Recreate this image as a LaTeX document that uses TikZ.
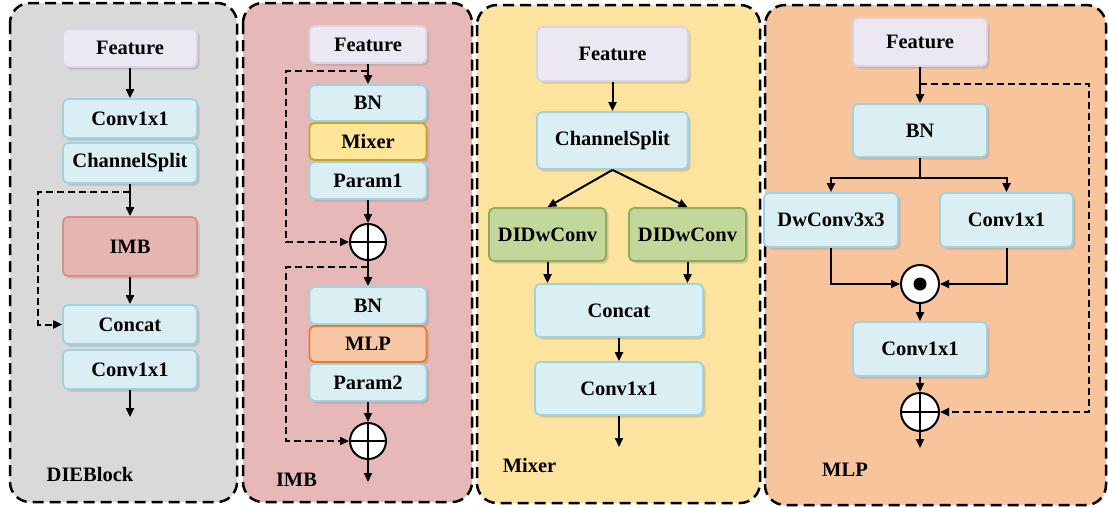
\documentclass[tikz,border=0pt]{standalone}
\usepackage{fontspec}
\setmainfont{Liberation Serif}
\usetikzlibrary{arrows.meta,shadows}

\definecolor{boxfill}{HTML}{DAEEF3}
\definecolor{boxedge}{HTML}{9DD3E0}
\definecolor{featfill}{HTML}{ECE8F1}
\definecolor{featedge}{HTML}{DCD4E6}
\definecolor{imbfill}{HTML}{E6B5B3}
\definecolor{imbedge}{HTML}{D88E8A}
\definecolor{mixfill}{HTML}{FFE597}
\definecolor{mixedge}{HTML}{C9A227}
\definecolor{mlpfill}{HTML}{F8C6A5}
\definecolor{mlpedge}{HTML}{E87A2E}
\definecolor{dwfill}{HTML}{C4D79B}
\definecolor{dwedge}{HTML}{8EAA5A}
\definecolor{pgray}{HTML}{D9D9D9}
\definecolor{ppink}{HTML}{E6B9B8}
\definecolor{pyellow}{HTML}{FDE49E}
\definecolor{ppeach}{HTML}{F8C49C}

\tikzset{
  blk/.style={draw=boxedge, fill=boxfill, line width=1.8pt, rounded corners=5pt,
    inner sep=0pt, drop shadow={shadow xshift=2.5pt, shadow yshift=-2.5pt, opacity=0.3}},
  feat/.style={blk, draw=featedge, fill=featfill},
  flow/.style={-{Triangle[length=9pt,width=8pt]}, line width=2pt},
  skip/.style={flow, dash pattern=on 7pt off 4pt},
  panel/.style={draw=black, line width=2.5pt, dash pattern=on 11pt off 6pt, rounded corners=20pt},
  sumnode/.style={circle, draw, fill=white, line width=2pt, minimum size=36pt, inner sep=0pt,
    path picture={\draw[line width=1.8pt] (path picture bounding box.north) -- (path picture bounding box.south)
      (path picture bounding box.west) -- (path picture bounding box.east);}},
  mulnode/.style={circle, draw, fill=white, line width=2pt, minimum size=38pt, inner sep=0pt,
    path picture={\fill[black] (path picture bounding box.center) circle (6.5pt);}}
}

\begin{document}
\begin{tikzpicture}[x=1pt, y=-1pt, every node/.style={font=\fontsize{20.5}{24}\selectfont\bfseries}]
  \fill[white] (0,0) rectangle (1108,507);
  \useasboundingbox (0,0) rectangle (1108,507);

  % panels
  \draw[panel, fill=pgray] (10,3) rectangle (237,502);
  \draw[panel, fill=ppink] (243,3) rectangle (472,502);
  \draw[panel, fill=pyellow] (477,5) rectangle (760,503);
  \draw[panel, fill=ppeach] (765,5) rectangle (1106,505);

  % DIEBlock
  \node[feat, minimum width=134pt, minimum height=38pt] (f1) at (130,48) {Feature};
  \node[blk, minimum width=134pt, minimum height=39pt] (c1a) at (130,118.5) {Conv1x1};
  \node[blk, minimum width=134pt, minimum height=40pt] (cs1) at (130,163) {ChannelSplit};
  \node[blk, draw=imbedge, fill=imbfill, minimum width=134pt, minimum height=59pt] (imb1) at (130,246.5) {IMB};
  \node[blk, minimum width=134pt, minimum height=39pt] (cat1) at (130,324.5) {Concat};
  \node[blk, minimum width=134pt, minimum height=39pt] (c1b) at (130,369.5) {Conv1x1};
  \coordinate (o1) at (130,417);
  \coordinate (s1) at (130,192);
  \coordinate (k1) at (38,192);
  \draw[flow] (f1) -- (c1a);
  \draw[flow] (cs1) -- (imb1);
  \draw[flow] (imb1) -- (cat1);
  \draw[flow] (c1b) -- (o1);
  \draw[skip] (s1) -- (k1) |- (cat1.west);
  \node (lb1) at (90,474) {DIEBlock};

  % IMB
  \node[feat, minimum width=117pt, minimum height=37pt] (f2) at (368,44.5) {Feature};
  \node[blk, minimum width=117pt, minimum height=36pt] (bn2a) at (368,103) {BN};
  \node[blk, draw=mixedge, fill=mixfill, minimum width=117pt, minimum height=37pt] (mix2) at (368,141.5) {Mixer};
  \node[blk, minimum width=117pt, minimum height=37pt] (p2a) at (368,180.5) {Param1};
  \node[sumnode] (add2a) at (368,242) {};
  \node[blk, minimum width=117pt, minimum height=37pt] (bn2b) at (368,305.5) {BN};
  \node[blk, draw=mlpedge, fill=mlpfill, minimum width=117pt, minimum height=36pt] (mlp2) at (368,344) {MLP};
  \node[blk, minimum width=117pt, minimum height=37pt] (p2b) at (368,382.5) {Param2};
  \node[sumnode] (add2b) at (368,441) {};
  \coordinate (o2) at (368,482);
  \coordinate (s2a) at (368,71);
  \coordinate (k2a) at (286,71);
  \coordinate (s2b) at (368,267);
  \coordinate (k2b) at (286,267);
  \draw[flow] (f2) -- (bn2a);
  \draw[flow] (p2a) -- (add2a);
  \draw[flow] (add2a) -- (bn2b);
  \draw[flow] (p2b) -- (add2b);
  \draw[flow] (add2b) -- (o2);
  \draw[skip] (s2a) -- (k2a) |- (add2a.west);
  \draw[skip] (s2b) -- (k2b) |- (add2b.west);
  \node (lb2) at (296.5,480) {IMB};

  % Mixer
  \node[feat, minimum width=151pt, minimum height=54pt] (f3) at (612.5,54) {Feature};
  \node[blk, minimum width=151pt, minimum height=57pt] (cs3) at (612.5,140.5) {ChannelSplit};
  \node[blk, draw=dwedge, fill=dwfill, minimum width=117pt, minimum height=53pt] (dw3a) at (547.5,234.5) {DIDwConv};
  \node[blk, draw=dwedge, fill=dwfill, minimum width=117pt, minimum height=53pt] (dw3b) at (687.5,234.5) {DIDwConv};
  \node[blk, minimum width=168pt, minimum height=53pt] (cat3) at (619,310.5) {Concat};
  \node[blk, minimum width=168pt, minimum height=53pt] (cv3) at (619,388.5) {Conv1x1};
  \coordinate (o3) at (619,447);
  \draw[flow] (f3) -- (cs3);
  \draw[flow] (cs3.south) -- (dw3a.north);
  \draw[flow] (cs3.south) -- (dw3b.north);
  \draw[flow] (dw3a.south) -- (dw3a.south |- cat3.north);
  \draw[flow] (dw3b.south) -- (dw3b.south |- cat3.north);
  \draw[flow] (cat3) -- (cv3);
  \draw[flow] (cv3) -- (o3);
  \node (lb3) at (529.5,465) {Mixer};

  % MLP
  \node[feat, minimum width=134pt, minimum height=48pt] (f4) at (920,42) {Feature};
  \node[blk, minimum width=134pt, minimum height=53pt] (bn4) at (920,130.5) {BN};
  \node[blk, minimum width=134pt, minimum height=54pt] (dw4) at (831,220) {DwConv3x3};
  \node[blk, minimum width=133pt, minimum height=54pt] (cv4a) at (1006.5,220) {Conv1x1};
  \node[mulnode] (mul4) at (920,284) {};
  \node[blk, minimum width=134pt, minimum height=54pt] (cv4b) at (920,349) {Conv1x1};
  \node[sumnode, minimum size=38pt] (add4) at (920,412) {};
  \coordinate (o4) at (920,448);
  \coordinate (sp4) at (920,178);
  \coordinate (s4) at (920,84);
  \coordinate (k4) at (1089,84);
  \draw[flow] (f4) -- (bn4);
  \draw[line width=2pt] (bn4) -- (sp4);
  \draw[flow] (sp4) -| (dw4.north);
  \draw[flow] (sp4) -| (cv4a.north);
  \draw[flow] (dw4.south) |- (mul4.west);
  \draw[flow] (cv4a.south) |- (mul4.east);
  \draw[flow] (mul4) -- (cv4b);
  \draw[flow] (cv4b) -- (add4);
  \draw[flow] (add4) -- (o4);
  \draw[skip] (s4) -- (k4) |- (add4.east);
  \node (lb4) at (845,470) {MLP};
\end{tikzpicture}
\end{document}
